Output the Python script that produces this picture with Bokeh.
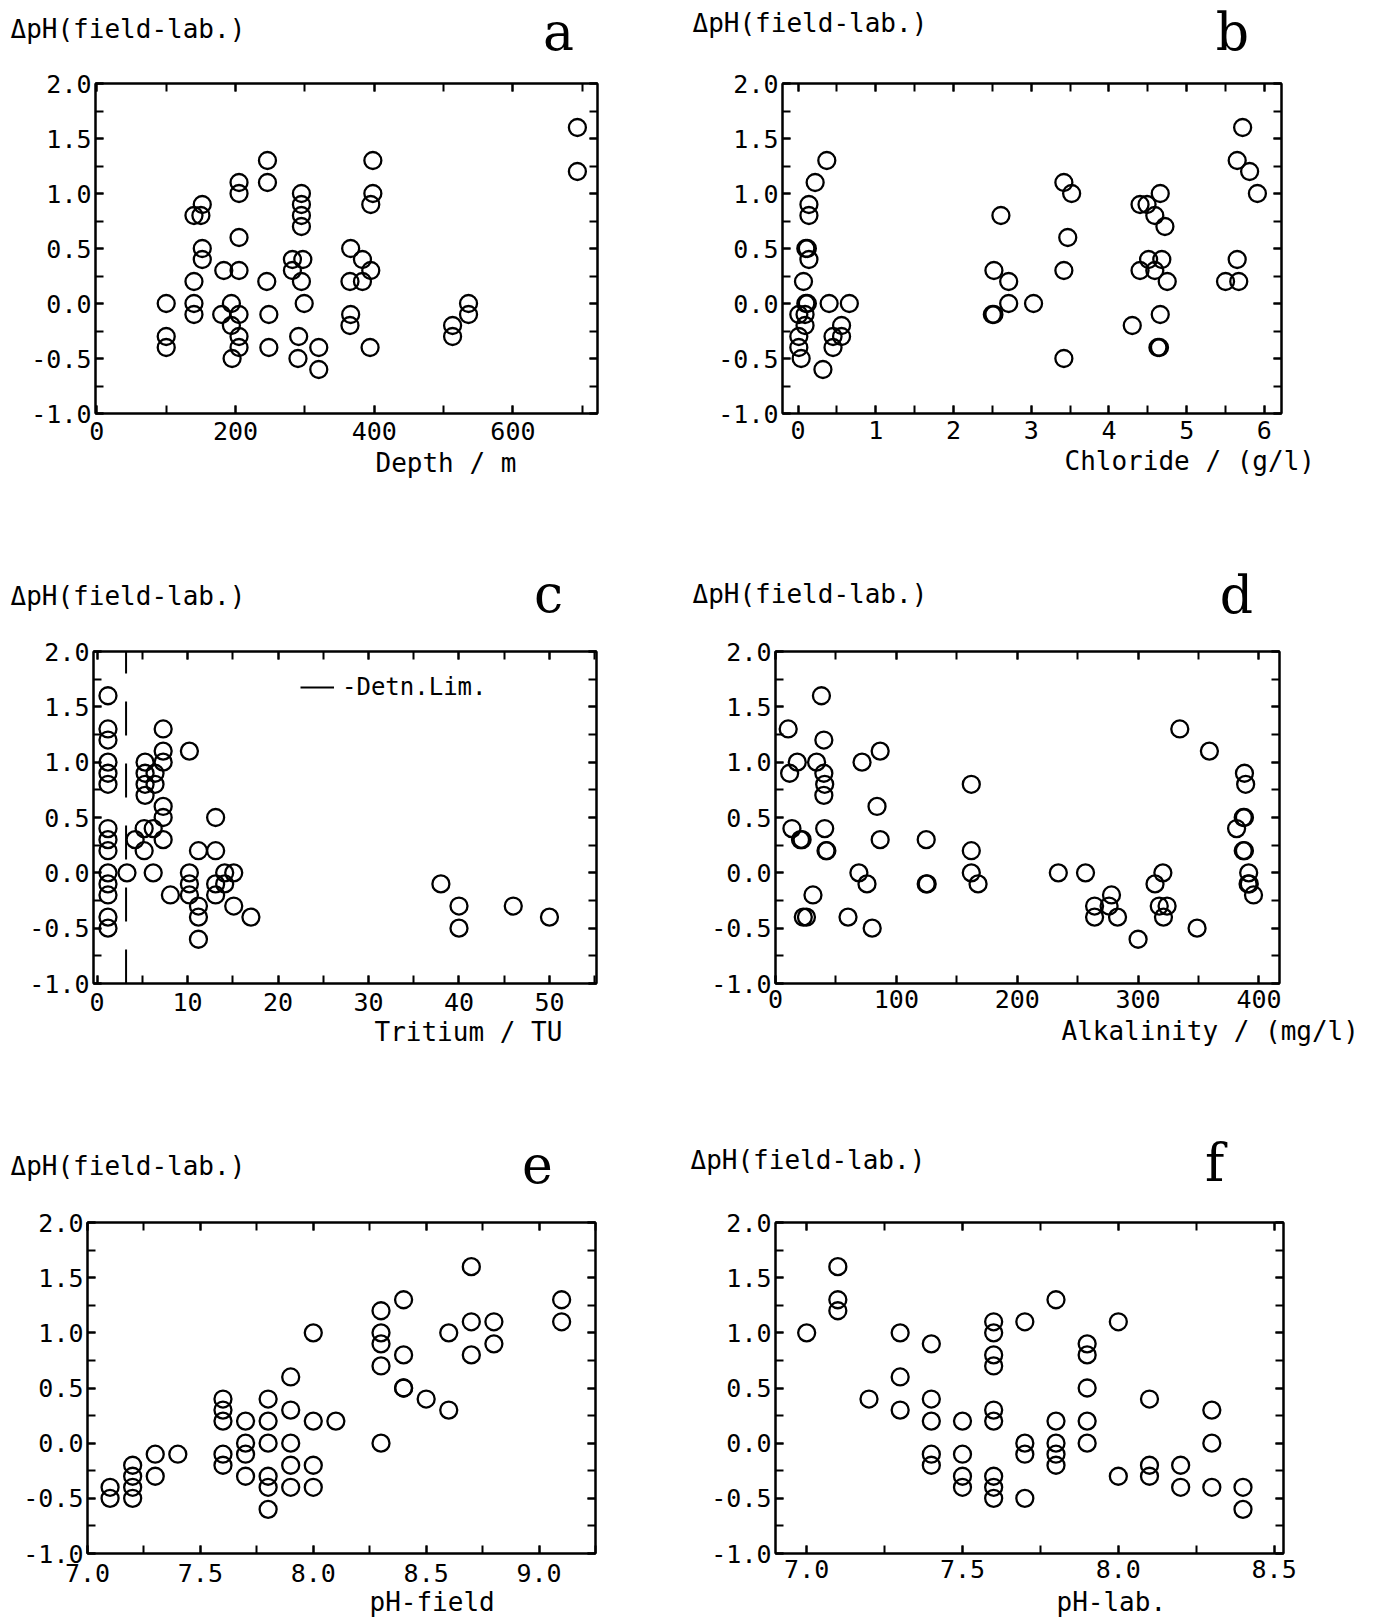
from bokeh.plotting import figure
from bokeh.layouts import column, row
from bokeh.models import (Range1d, LinearAxis, SingleIntervalTicker, PrintfTickFormatter,
                          BasicTickFormatter, CustomJSTickFormatter, Legend, LegendItem, Title)
from bokeh.core.properties import value
from bokeh.embed import file_html
from bokeh.resources import INLINE

# ---------------- data ----------------
Y_LABEL = "ΔpH(field-lab.)"
Y_RANGE = (-1.0, 2.0)

# a: Depth / m
depth_a = [100, 100, 100, 140, 150, 152, 152, 152, 140, 140, 140,
           183, 180, 194, 194, 195, 205, 205, 205, 205, 205, 205, 205,
           246, 246, 245, 248, 248, 282, 282,
           295, 295, 295, 295, 297, 295, 299, 291, 290, 320, 320,
           366, 365, 366, 365, 383, 383, 395, 398, 398, 395, 394,
           513, 513, 536, 536, 693, 693]
dph_a = [0.0, -0.3, -0.4, 0.8, 0.8, 0.9, 0.5, 0.4, 0.2, 0.0, -0.1,
         0.3, -0.1, 0.0, -0.2, -0.5, -0.1, -0.3, -0.4, 1.1, 1.0, 0.6, 0.3,
         1.3, 1.1, 0.2, -0.1, -0.4, 0.4, 0.3,
         1.0, 0.9, 0.8, 0.7, 0.4, 0.2, 0.0, -0.3, -0.5, -0.4, -0.6,
         0.5, 0.2, -0.1, -0.2, 0.4, 0.2, 0.3, 1.3, 1.0, 0.9, -0.4,
         -0.2, -0.3, 0.0, -0.1, 1.6, 1.2]

# b: Chloride / (g/l)
chloride_b = [0.37, 0.22, 0.14, 0.14, 0.10, 0.12, 0.14, 0.07, 0.10, 0.12,
              0.01, 0.09, 0.09, 0.01, 0.01, 0.04, 0.32, 0.40, 0.66, 0.45, 0.45, 0.56, 0.56,
              2.52, 2.61, 2.71, 2.71, 2.50, 2.52, 3.03, 3.42, 3.52, 3.47, 3.42, 3.42,
              4.30, 4.40, 4.49, 4.59, 4.72, 4.66, 4.40, 4.51, 4.59, 4.68, 4.75, 4.66, 4.63, 4.65,
              5.72, 5.65, 5.81, 5.91, 5.65, 5.50, 5.67]
dph_b = [1.3, 1.1, 0.9, 0.8, 0.5, 0.5, 0.4, 0.2, 0.0, 0.0,
         -0.1, -0.1, -0.2, -0.3, -0.4, -0.5, -0.6, 0.0, 0.0, -0.3, -0.4, -0.2, -0.3,
         0.3, 0.8, 0.2, 0.0, -0.1, -0.1, 0.0, 1.1, 1.0, 0.6, 0.3, -0.5,
         -0.2, 0.9, 0.9, 0.8, 0.7, 1.0, 0.3, 0.4, 0.3, 0.4, 0.2, -0.1, -0.4, -0.4,
         1.6, 1.3, 1.2, 1.0, 0.4, 0.2, 0.2]

# c: Tritium / TU
tritium_c = [1.2, 1.2, 1.2, 1.2, 1.2, 1.2, 1.2, 1.2, 1.2, 1.2, 1.2, 1.2, 1.2, 1.2,
             3.3, 4.2, 5.2, 5.2, 5.3, 5.3, 5.3, 5.3, 6.4, 6.4, 6.2, 6.2,
             7.3, 7.3, 7.3, 7.3, 7.3, 7.3, 8.1, 10.2, 10.2, 10.2, 10.2,
             11.2, 11.2, 11.2, 11.2, 13.1, 13.1, 13.1, 13.1, 14.1, 14.1, 15.1, 15.1, 17.0,
             38.0, 40.0, 40.0, 46.0, 50.0]
dph_c = [1.6, 1.3, 1.2, 1.0, 0.9, 0.8, 0.4, 0.3, 0.2, 0.0, -0.1, -0.2, -0.4, -0.5,
         0.0, 0.3, 0.2, 0.4, 1.0, 0.9, 0.8, 0.7, 0.9, 0.8, 0.4, 0.0,
         1.3, 1.1, 1.0, 0.6, 0.5, 0.3, -0.2, 1.1, 0.0, -0.1, -0.2,
         0.2, -0.3, -0.4, -0.6, 0.5, 0.2, -0.1, -0.2, 0.0, -0.1, 0.0, -0.3, -0.4,
         -0.1, -0.3, -0.5, -0.3, -0.4]
detn_lim_c = 3.2

# d: Alkalinity / (mg/l)
alk_d = [10.5, 11.7, 18, 13.6, 20.7, 22, 23, 25.6, 31, 34,
         38, 40, 40, 40.7, 40, 40.7, 41.8, 42.5, 60, 69,
         71.6, 75.7, 80, 84, 86.6, 86.6, 124.7, 124.7, 125.5, 162,
         162, 162, 167.6,
         234, 256.5, 264, 264, 278, 276, 283, 300, 314, 320.5,
         317.5, 324, 321, 334.5, 348.8, 359, 381.5, 387, 388, 388,
         389, 387, 388, 391.5, 391, 392, 395.5]
dph_d = [1.3, 0.9, 1.0, 0.4, 0.3, 0.3, -0.4, -0.4, -0.2, 1.0,
         1.6, 1.2, 0.9, 0.8, 0.7, 0.4, 0.2, 0.2, -0.4, 0.0,
         1.0, -0.1, -0.5, 0.6, 1.1, 0.3, 0.3, -0.1, -0.1, 0.8,
         0.2, 0.0, -0.1,
         0.0, 0.0, -0.3, -0.4, -0.2, -0.3, -0.4, -0.6, -0.1, 0.0,
         -0.3, -0.3, -0.4, 1.3, -0.5, 1.1, 0.4, 0.5, 0.5, 0.9,
         0.8, 0.2, 0.2, 0.0, -0.1, -0.1, -0.2]

# e: pH-field
ph_field_e = [7.1, 7.1, 7.2, 7.2, 7.2, 7.2, 7.3, 7.3, 7.4,
              7.6, 7.6, 7.6, 7.6, 7.6, 7.7, 7.7, 7.7, 7.7,
              7.8, 7.8, 7.8, 7.8, 7.8, 7.8, 7.9, 7.9, 7.9, 7.9, 7.9,
              8.0, 8.0, 8.0, 8.0, 8.1, 8.3, 8.3, 8.3, 8.3, 8.3,
              8.4, 8.4, 8.4, 8.4, 8.5, 8.6, 8.6, 8.7, 8.7, 8.7, 8.8, 8.8, 9.1, 9.1]
dph_e = [-0.4, -0.5, -0.2, -0.3, -0.4, -0.5, -0.1, -0.3, -0.1,
         0.4, 0.3, 0.2, -0.1, -0.2, 0.2, 0.0, -0.1, -0.3,
         0.4, 0.2, 0.0, -0.3, -0.4, -0.6, 0.6, 0.3, 0.0, -0.2, -0.4,
         1.0, 0.2, -0.2, -0.4, 0.2, 1.2, 1.0, 0.9, 0.7, 0.0,
         1.3, 0.8, 0.5, 0.5, 0.4, 1.0, 0.3, 1.6, 1.1, 0.8, 1.1, 0.9, 1.3, 1.1]

# f: pH-lab.
ph_lab_f = [7.0, 7.1, 7.1, 7.1, 7.2, 7.3, 7.3, 7.3,
            7.4, 7.4, 7.4, 7.4, 7.4, 7.5, 7.5, 7.5, 7.5,
            7.6, 7.6, 7.6, 7.6, 7.6, 7.6, 7.6, 7.6, 7.6,
            7.7, 7.7, 7.7, 7.7, 7.8, 7.8, 7.8, 7.8, 7.8,
            7.9, 7.9, 7.9, 7.9, 7.9, 8.0, 8.0, 8.1, 8.1, 8.1,
            8.2, 8.2, 8.3, 8.3, 8.3, 8.4, 8.4]
dph_f = [1.0, 1.6, 1.3, 1.2, 0.4, 1.0, 0.6, 0.3,
         0.9, 0.4, 0.2, -0.1, -0.2, 0.2, -0.1, -0.3, -0.4,
         1.1, 1.0, 0.8, 0.7, 0.3, 0.2, -0.3, -0.4, -0.5,
         1.1, 0.0, -0.1, -0.5, 1.3, 0.2, 0.0, -0.1, -0.2,
         0.9, 0.8, 0.5, 0.2, 0.0, 1.1, -0.3, 0.4, -0.2, -0.3,
         -0.2, -0.4, 0.3, 0.0, -0.4, -0.4, -0.6]

# ---------------- style / layout ----------------
MONO = "DejaVu Sans Mono"
SERIF = "DejaVu Serif"
TXT = "26px"
TICK_TXT = "25px"
COL_LEFT = [0, 660]
COL_W = [660, 730]
ROW_TOP = [0, 560, 1120]
ROW_H = [560, 560, 500]
HEAD_H = [62, 70, 82]


def header(col, rw, title_xy, letter_xy):
    w, hh = COL_W[col], HEAD_H[rw]
    fl, ft = COL_LEFT[col], ROW_TOP[rw]
    h = figure(width=w, height=hh, output_backend="svg", toolbar_location=None,
               x_range=Range1d(0, w), y_range=Range1d(hh, 0),
               x_axis_location=None, y_axis_location=None, min_border=0)
    h.xgrid.visible = False
    h.ygrid.visible = False
    h.outline_line_color = None
    h.text(x=[title_xy[0] - fl], y=[title_xy[1] - ft], text=[Y_LABEL],
           text_font=value(MONO), text_font_size=TXT, text_color="black",
           text_align="left", text_baseline="middle")
    h.text(x=[letter_xy[0] - fl], y=[letter_xy[1] - ft], text=[letter_xy[2]],
           text_font=value(SERIF), text_font_size="52px", text_color="black",
           text_align="center", text_baseline="middle")
    return h


def style(ax, labels):
    ax.axis_line_color = "black"
    ax.axis_line_width = 2
    ax.major_tick_in = 8
    ax.major_tick_out = 0
    ax.minor_tick_in = 8
    ax.minor_tick_out = 0
    ax.major_tick_line_width = 2
    ax.minor_tick_line_width = 2
    ax.major_tick_line_color = "black"
    ax.minor_tick_line_color = "black"
    ax.major_label_text_font = MONO
    ax.major_label_text_font_size = TICK_TXT
    ax.major_label_text_color = "black"
    if not labels:
        ax.major_label_text_font_size = "1px"
        ax.major_label_standoff = 0


def panel(xs, ys, xrange_, x_int, x_fmt, xlabel, col, rw, frame, xlabel_left,
          tick_standoff, title_standoff):
    L, R, T, B = frame
    fl = COL_LEFT[col]
    ft = ROW_TOP[rw] + HEAD_H[rw]
    w, h = COL_W[col], ROW_H[rw] - HEAD_H[rw]
    p = figure(width=w, height=h, output_backend="svg", toolbar_location=None,
               x_range=Range1d(*xrange_), y_range=Range1d(*Y_RANGE),
               x_axis_location=None, y_axis_location=None,
               min_border_left=L - fl, min_border_right=fl + w - R,
               min_border_top=T - ft, min_border_bottom=ft + h - B)
    p.xgrid.visible = False
    p.ygrid.visible = False
    p.outline_line_color = "black"
    p.outline_line_width = 2

    yt = SingleIntervalTicker(interval=0.5, num_minor_ticks=2)
    xt = SingleIntervalTicker(interval=x_int, num_minor_ticks=2)
    left = LinearAxis(ticker=yt, formatter=PrintfTickFormatter(format="%.1f"),
                      major_label_standoff=4)
    style(left, True)
    right = LinearAxis(ticker=yt, formatter=CustomJSTickFormatter(code="return ''"))
    style(right, False)
    below = LinearAxis(ticker=xt, formatter=x_fmt, major_label_standoff=tick_standoff)
    style(below, True)
    above = LinearAxis(ticker=xt, formatter=CustomJSTickFormatter(code="return ''"))
    style(above, False)
    p.add_layout(left, "left")
    p.add_layout(right, "right")
    p.add_layout(below, "below")
    p.add_layout(above, "above")
    p.add_layout(Title(text=xlabel, align="left", offset=xlabel_left - L,
                       standoff=title_standoff, text_font=MONO, text_font_size=TXT,
                       text_font_style="normal", text_color="black"), "below")

    p.scatter(xs, ys, marker="circle", size=17, fill_color=None,
              line_color="black", line_width=2.3)
    return p


fmt1 = PrintfTickFormatter(format="%.1f")

ha = header(0, 0, (10, 28), (558, 31, "a"))
hb = header(1, 0, (692, 22), (1232, 31, "b"))
hc = header(0, 1, (10, 595), (548, 593, "c"))
hd = header(1, 1, (692, 593), (1236, 594, "d"))
he = header(0, 2, (10, 1165), (537, 1163, "e"))
hf = header(1, 2, (690, 1159), (1214, 1162, "f"))

pa = panel(depth_a, dph_a, (-2, 722), 200, BasicTickFormatter(), "Depth / m",
           0, 0, (95, 597, 83, 416), 375, 8, 7)
pb = panel(chloride_b, dph_b, (-0.2, 6.22), 1, BasicTickFormatter(), "Chloride / (g/l)",
           1, 0, (782, 1281, 79, 413), 1064, 7, 4)
pc = panel(tritium_c, dph_c, (-0.4, 55.2), 10, BasicTickFormatter(), "Tritium / TU",
           0, 1, (93, 596, 651, 985), 374, 9, 2)
pd_ = panel(alk_d, dph_d, (0, 417), 100, BasicTickFormatter(), "Alkalinity / (mg/l)",
            1, 1, (775, 1279, 648, 983), 1061, 6, 6)
pe = panel(ph_field_e, dph_e, (7.0, 9.25), 0.5, fmt1, "pH-field",
           0, 2, (87, 595, 1222, 1557), 369, 10, 1)
pf = panel(ph_lab_f, dph_f, (6.9, 8.53), 0.5, fmt1, "pH-lab.",
           1, 2, (775, 1283, 1218, 1553), 1056, 6, 8)

# detection limit line in panel c
dl = pc.line([detn_lim_c, detn_lim_c], list(Y_RANGE), line_color="black", line_width=2,
             line_dash="34 28")
leg = Legend(items=[LegendItem(label="-Detn.Lim.", renderers=[dl])],
             location=(207, 282), padding=0, margin=0, spacing=0, label_standoff=8,
             glyph_width=34, glyph_height=20, label_height=20,
             label_text_font=MONO, label_text_font_size="24px", label_text_color="black",
             background_fill_alpha=0, border_line_color=None)
pc.add_layout(leg, "center")

layout = column(row(ha, hb), row(pa, pb), row(hc, hd), row(pc, pd_), row(he, hf), row(pe, pf))
open("out.html", "w").write(file_html(layout, INLINE))
